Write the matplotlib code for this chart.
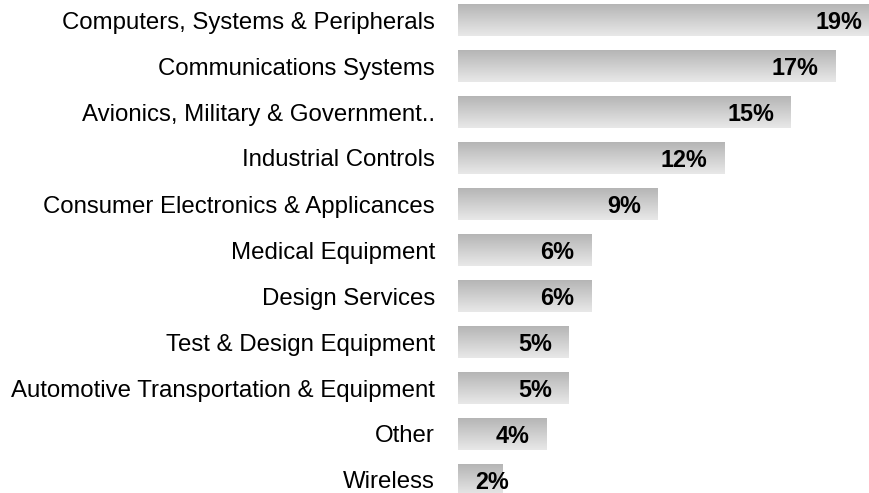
import matplotlib.pyplot as plt
import numpy as np

categories = [
    "Computers, Systems & Peripherals",
    "Communications Systems",
    "Avionics, Military & Government..",
    "Industrial Controls",
    "Consumer Electronics & Applicances",
    "Medical Equipment",
    "Design Services",
    "Test & Design Equipment",
    "Automotive Transportation & Equipment",
    "Other",
    "Wireless",
]
shares = [19, 17, 15, 12, 9, 6, 6, 5, 5, 4, 2]
share_labels = ["19%", "17%", "15%", "12%", "9%", "6%", "6%", "5%", "5%", "4%", "2%"]

plt.rcParams['font.family'] = ['Liberation Sans', 'DejaVu Sans']

fig = plt.figure(figsize=(8.69, 4.93), dpi=100)
ax = fig.add_axes([458 / 869, 0, 1 - 458 / 869, 1])

ypos = np.arange(len(categories))
h = 32 / 46

# vertical gradient, dark at top, light at bottom
grad = np.linspace(0.71, 0.91, 64).reshape(-1, 1)
grad = np.repeat(grad, 2, axis=1)

for y, v in zip(ypos, shares):
    ax.imshow(grad, cmap='gray', vmin=0, vmax=1, aspect='auto',
              extent=(0, v, y + h / 2, y - h / 2), origin='upper',
              interpolation='bilinear', zorder=1)

for y, v, lab in zip(ypos, shares, share_labels):
    if v < 3:
        # too short: label sits from the bar start
        ax.annotate(lab, (0, y), xytext=(17, 0), textcoords='offset pixels',
                    ha='left', va='center_baseline', fontsize=16.8, fontweight='bold',
                    zorder=3, annotation_clip=False)
    else:
        ax.annotate(lab, (v, y), xytext=(-17, 0), textcoords='offset pixels',
                    ha='right', va='center_baseline', fontsize=16.8, fontweight='bold',
                    zorder=3, annotation_clip=False)

ax.set_xlim(0, (869 - 458) / 22.2)
ax.set_ylim(10 + 13 / 46, -20 / 46)
ax.set_yticks(ypos)
ax.set_yticklabels(categories, fontsize=17.3)
ax.tick_params(axis='y', length=0, pad=16.5)
ax.set_xticks([])
for s in ax.spines.values():
    s.set_visible(False)

fig.savefig('out.png', dpi=100)
